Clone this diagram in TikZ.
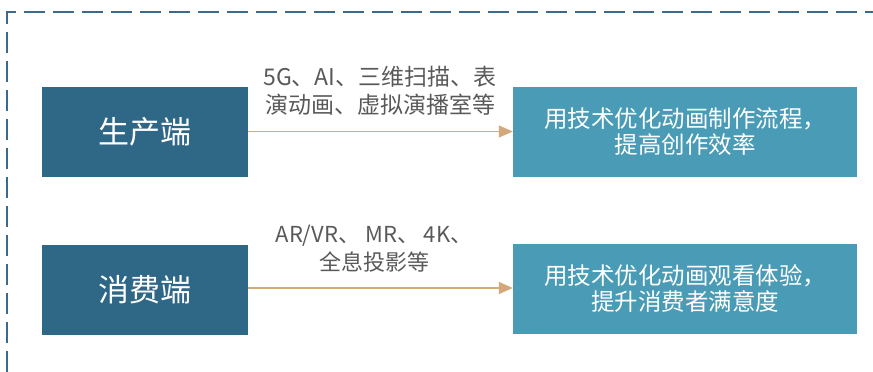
\documentclass[tikz,border=0pt]{standalone}
\usepackage{fontspec}
\setmainfont{Noto Sans CJK SC}
\usetikzlibrary{arrows.meta}
\definecolor{darkbox}{HTML}{2F6787}
\definecolor{lightbox}{HTML}{4A9CB6}
\definecolor{frame}{HTML}{3B6A8A}
\definecolor{arrowc}{HTML}{D3A97C}
\definecolor{labelc}{HTML}{595959}
\tikzset{
  leftbox/.style={fill=darkbox, text=white, minimum width=206pt, minimum height=90pt, inner sep=0pt, font=\fontsize{31pt}{36pt}\selectfont},
  rightbox/.style={fill=lightbox, text=white, minimum width=344pt, minimum height=90pt, inner sep=0pt, align=center, font=\fontsize{23.5pt}{26pt}\selectfont},
  conn/.style={draw=arrowc, line width=1.3pt, -{Triangle[length=14pt,width=12pt]}},
  lbl/.style={text=labelc, align=center, inner sep=0pt, font=\fontsize{23pt}{28pt}\selectfont},
  lbltwo/.style={text=labelc, align=center, inner sep=0pt, font=\fontsize{22pt}{28pt}\selectfont},
}
\begin{document}
\begin{tikzpicture}[x=1pt,y=-1pt]
\useasboundingbox (0,0) rectangle (873,372);
\draw[frame, line width=2pt, dash pattern=on 21pt off 8pt] (7,372) -- (7,12) -- (880,12);
\node[leftbox] (p1) at (145,132) {生产端};
\node[leftbox] (p2) at (145,289.5) {消费端};
\node[rightbox] (r1) at (685,132) {用技术优化动画制作流程，\\提高创作效率};
\node[rightbox] (r2) at (685,288.5) {用技术优化动画观看体验，\\提升消费者满意度};
\draw[conn] (p1.east |- 0,131.5) -- (r1.west |- 0,131.5);
\draw[conn] (p2.east |- 0,288) -- (r2.west |- 0,288);
\node[lbl] (l1) at (380,91) {5G、AI、三维扫描、表\\演动画、虚拟演播室等};
\node[lbltwo] (l2) at (374,249) {AR/VR、 MR、 4K、\\全息投影等};
\end{tikzpicture}
\end{document}
